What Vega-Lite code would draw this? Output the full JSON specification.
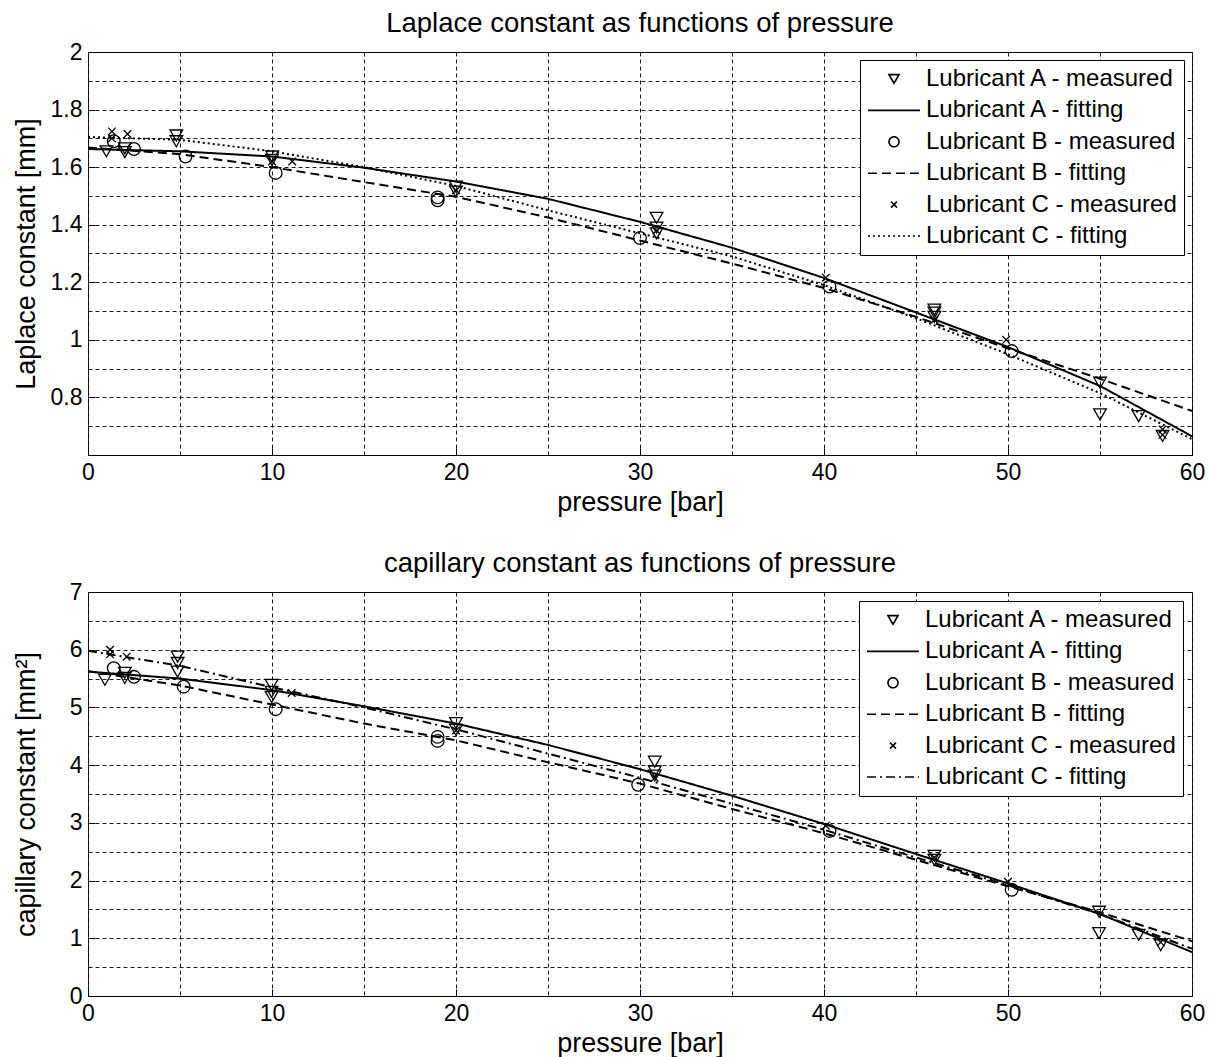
{
  "$schema": "https://vega.github.io/schema/vega-lite/v6.json",
  "background": "white",
  "padding": {"left": 11, "top": 9, "right": 5, "bottom": 0},
  "spacing": 33,
  "config": {
    "font": "Liberation Sans",
    "view": {"stroke": "black", "strokeWidth": 1},
    "axis": {"labelColor": "black", "titleColor": "black", "tickColor": "black", "titleFontWeight": "normal", "labelFont": "Liberation Sans", "titleFont": "Liberation Sans", "labelFlush": false, "labelOverlap": false},
    "title": {"font": "Liberation Sans", "fontWeight": "normal", "color": "black"}
  },
  "datasets": {
    "lap_meas": [
      {"series": "Lubricant A - measured", "pressure": 1.0, "value": 1.655},
      {"series": "Lubricant A - measured", "pressure": 2.0, "value": 1.665},
      {"series": "Lubricant A - measured", "pressure": 2.0, "value": 1.652},
      {"series": "Lubricant A - measured", "pressure": 4.8, "value": 1.71},
      {"series": "Lubricant A - measured", "pressure": 4.8, "value": 1.69},
      {"series": "Lubricant A - measured", "pressure": 10.0, "value": 1.637},
      {"series": "Lubricant A - measured", "pressure": 10.0, "value": 1.625},
      {"series": "Lubricant A - measured", "pressure": 20.0, "value": 1.532},
      {"series": "Lubricant A - measured", "pressure": 20.0, "value": 1.515},
      {"series": "Lubricant A - measured", "pressure": 30.9, "value": 1.424},
      {"series": "Lubricant A - measured", "pressure": 30.9, "value": 1.39},
      {"series": "Lubricant A - measured", "pressure": 30.9, "value": 1.37},
      {"series": "Lubricant A - measured", "pressure": 46.0, "value": 1.105},
      {"series": "Lubricant A - measured", "pressure": 46.0, "value": 1.095},
      {"series": "Lubricant A - measured", "pressure": 46.0, "value": 1.08},
      {"series": "Lubricant A - measured", "pressure": 55.0, "value": 0.851},
      {"series": "Lubricant A - measured", "pressure": 55.0, "value": 0.741},
      {"series": "Lubricant A - measured", "pressure": 57.1, "value": 0.735},
      {"series": "Lubricant A - measured", "pressure": 58.4, "value": 0.666},
      {"series": "Lubricant B - measured", "pressure": 1.4, "value": 1.69},
      {"series": "Lubricant B - measured", "pressure": 2.5, "value": 1.663},
      {"series": "Lubricant B - measured", "pressure": 5.3, "value": 1.637},
      {"series": "Lubricant B - measured", "pressure": 10.2, "value": 1.58},
      {"series": "Lubricant B - measured", "pressure": 19.0, "value": 1.485},
      {"series": "Lubricant B - measured", "pressure": 19.0, "value": 1.495},
      {"series": "Lubricant B - measured", "pressure": 30.0, "value": 1.354},
      {"series": "Lubricant B - measured", "pressure": 40.3, "value": 1.185},
      {"series": "Lubricant B - measured", "pressure": 50.2, "value": 0.961},
      {"series": "Lubricant C - measured", "pressure": 1.3, "value": 1.724},
      {"series": "Lubricant C - measured", "pressure": 1.3, "value": 1.70},
      {"series": "Lubricant C - measured", "pressure": 2.15, "value": 1.715},
      {"series": "Lubricant C - measured", "pressure": 10.0, "value": 1.62},
      {"series": "Lubricant C - measured", "pressure": 11.1, "value": 1.62},
      {"series": "Lubricant C - measured", "pressure": 20.0, "value": 1.52},
      {"series": "Lubricant C - measured", "pressure": 30.9, "value": 1.38},
      {"series": "Lubricant C - measured", "pressure": 40.1, "value": 1.216},
      {"series": "Lubricant C - measured", "pressure": 46.0, "value": 1.07},
      {"series": "Lubricant C - measured", "pressure": 49.9, "value": 1.0},
      {"series": "Lubricant C - measured", "pressure": 58.4, "value": 0.689},
      {"series": "Lubricant C - measured", "pressure": 58.4, "value": 0.67}
    ],
    "lap_fit": [
      {"series": "Lubricant A - fitting", "pressure": 0, "value": 1.663},
      {"series": "Lubricant A - fitting", "pressure": 5, "value": 1.655},
      {"series": "Lubricant A - fitting", "pressure": 10, "value": 1.637},
      {"series": "Lubricant A - fitting", "pressure": 15, "value": 1.598},
      {"series": "Lubricant A - fitting", "pressure": 20, "value": 1.55},
      {"series": "Lubricant A - fitting", "pressure": 25, "value": 1.49},
      {"series": "Lubricant A - fitting", "pressure": 30, "value": 1.41},
      {"series": "Lubricant A - fitting", "pressure": 35, "value": 1.32},
      {"series": "Lubricant A - fitting", "pressure": 40, "value": 1.215},
      {"series": "Lubricant A - fitting", "pressure": 45, "value": 1.095},
      {"series": "Lubricant A - fitting", "pressure": 50, "value": 0.975},
      {"series": "Lubricant A - fitting", "pressure": 55, "value": 0.84},
      {"series": "Lubricant A - fitting", "pressure": 60, "value": 0.665},
      {"series": "Lubricant B - fitting", "pressure": 0, "value": 1.668},
      {"series": "Lubricant B - fitting", "pressure": 5, "value": 1.645},
      {"series": "Lubricant B - fitting", "pressure": 10, "value": 1.600},
      {"series": "Lubricant B - fitting", "pressure": 15, "value": 1.548},
      {"series": "Lubricant B - fitting", "pressure": 20, "value": 1.497},
      {"series": "Lubricant B - fitting", "pressure": 25, "value": 1.425},
      {"series": "Lubricant B - fitting", "pressure": 30, "value": 1.345},
      {"series": "Lubricant B - fitting", "pressure": 35, "value": 1.265},
      {"series": "Lubricant B - fitting", "pressure": 40, "value": 1.18},
      {"series": "Lubricant B - fitting", "pressure": 45, "value": 1.08},
      {"series": "Lubricant B - fitting", "pressure": 50, "value": 0.97},
      {"series": "Lubricant B - fitting", "pressure": 55, "value": 0.865},
      {"series": "Lubricant B - fitting", "pressure": 60, "value": 0.753},
      {"series": "Lubricant C - fitting", "pressure": 0, "value": 1.705},
      {"series": "Lubricant C - fitting", "pressure": 5, "value": 1.695},
      {"series": "Lubricant C - fitting", "pressure": 10, "value": 1.655},
      {"series": "Lubricant C - fitting", "pressure": 15, "value": 1.60},
      {"series": "Lubricant C - fitting", "pressure": 20, "value": 1.535},
      {"series": "Lubricant C - fitting", "pressure": 25, "value": 1.45},
      {"series": "Lubricant C - fitting", "pressure": 30, "value": 1.37},
      {"series": "Lubricant C - fitting", "pressure": 35, "value": 1.29},
      {"series": "Lubricant C - fitting", "pressure": 40, "value": 1.19},
      {"series": "Lubricant C - fitting", "pressure": 45, "value": 1.075},
      {"series": "Lubricant C - fitting", "pressure": 50, "value": 0.95},
      {"series": "Lubricant C - fitting", "pressure": 55, "value": 0.815},
      {"series": "Lubricant C - fitting", "pressure": 60, "value": 0.655}
    ],
    "cap_meas": [
      {"series": "Lubricant A - measured", "pressure": 0.92, "value": 5.48},
      {"series": "Lubricant A - measured", "pressure": 2.0, "value": 5.51},
      {"series": "Lubricant A - measured", "pressure": 2.0, "value": 5.6},
      {"series": "Lubricant A - measured", "pressure": 4.87, "value": 5.88},
      {"series": "Lubricant A - measured", "pressure": 4.87, "value": 5.77},
      {"series": "Lubricant A - measured", "pressure": 4.87, "value": 5.62},
      {"series": "Lubricant A - measured", "pressure": 9.98, "value": 5.39},
      {"series": "Lubricant A - measured", "pressure": 9.98, "value": 5.27},
      {"series": "Lubricant A - measured", "pressure": 9.98, "value": 5.18},
      {"series": "Lubricant A - measured", "pressure": 20.0, "value": 4.73},
      {"series": "Lubricant A - measured", "pressure": 20.0, "value": 4.61},
      {"series": "Lubricant A - measured", "pressure": 30.8, "value": 4.06},
      {"series": "Lubricant A - measured", "pressure": 30.8, "value": 3.89},
      {"series": "Lubricant A - measured", "pressure": 30.8, "value": 3.82},
      {"series": "Lubricant A - measured", "pressure": 46.0, "value": 2.43},
      {"series": "Lubricant A - measured", "pressure": 46.0, "value": 2.36},
      {"series": "Lubricant A - measured", "pressure": 54.95, "value": 1.46},
      {"series": "Lubricant A - measured", "pressure": 54.95, "value": 1.09},
      {"series": "Lubricant A - measured", "pressure": 57.1, "value": 1.06},
      {"series": "Lubricant A - measured", "pressure": 58.3, "value": 0.88},
      {"series": "Lubricant B - measured", "pressure": 1.4, "value": 5.68},
      {"series": "Lubricant B - measured", "pressure": 2.5, "value": 5.53},
      {"series": "Lubricant B - measured", "pressure": 5.2, "value": 5.36},
      {"series": "Lubricant B - measured", "pressure": 10.2, "value": 4.97},
      {"series": "Lubricant B - measured", "pressure": 19.0, "value": 4.42},
      {"series": "Lubricant B - measured", "pressure": 19.0, "value": 4.49},
      {"series": "Lubricant B - measured", "pressure": 29.9, "value": 3.66},
      {"series": "Lubricant B - measured", "pressure": 40.3, "value": 2.86},
      {"series": "Lubricant B - measured", "pressure": 50.2, "value": 1.84},
      {"series": "Lubricant C - measured", "pressure": 1.2, "value": 6.0},
      {"series": "Lubricant C - measured", "pressure": 1.2, "value": 5.92},
      {"series": "Lubricant C - measured", "pressure": 2.1, "value": 5.88},
      {"series": "Lubricant C - measured", "pressure": 11.07, "value": 5.25},
      {"series": "Lubricant C - measured", "pressure": 20.0, "value": 4.6},
      {"series": "Lubricant C - measured", "pressure": 30.8, "value": 3.78},
      {"series": "Lubricant C - measured", "pressure": 40.1, "value": 2.95},
      {"series": "Lubricant C - measured", "pressure": 46.0, "value": 2.4},
      {"series": "Lubricant C - measured", "pressure": 50.0, "value": 1.98},
      {"series": "Lubricant C - measured", "pressure": 58.3, "value": 0.93}
    ],
    "cap_fit": [
      {"series": "Lubricant A - fitting", "pressure": 0, "value": 5.62},
      {"series": "Lubricant A - fitting", "pressure": 5, "value": 5.5},
      {"series": "Lubricant A - fitting", "pressure": 10, "value": 5.3},
      {"series": "Lubricant A - fitting", "pressure": 15, "value": 5.02},
      {"series": "Lubricant A - fitting", "pressure": 20, "value": 4.72},
      {"series": "Lubricant A - fitting", "pressure": 25, "value": 4.35},
      {"series": "Lubricant A - fitting", "pressure": 30, "value": 3.93},
      {"series": "Lubricant A - fitting", "pressure": 35, "value": 3.47},
      {"series": "Lubricant A - fitting", "pressure": 40, "value": 2.98},
      {"series": "Lubricant A - fitting", "pressure": 45, "value": 2.46},
      {"series": "Lubricant A - fitting", "pressure": 50, "value": 1.95},
      {"series": "Lubricant A - fitting", "pressure": 55, "value": 1.42},
      {"series": "Lubricant A - fitting", "pressure": 60, "value": 0.76},
      {"series": "Lubricant B - fitting", "pressure": 0, "value": 5.63},
      {"series": "Lubricant B - fitting", "pressure": 5, "value": 5.38},
      {"series": "Lubricant B - fitting", "pressure": 10, "value": 5.05},
      {"series": "Lubricant B - fitting", "pressure": 15, "value": 4.72},
      {"series": "Lubricant B - fitting", "pressure": 20, "value": 4.43},
      {"series": "Lubricant B - fitting", "pressure": 25, "value": 4.05},
      {"series": "Lubricant B - fitting", "pressure": 30, "value": 3.68},
      {"series": "Lubricant B - fitting", "pressure": 35, "value": 3.24},
      {"series": "Lubricant B - fitting", "pressure": 40, "value": 2.82},
      {"series": "Lubricant B - fitting", "pressure": 45, "value": 2.36},
      {"series": "Lubricant B - fitting", "pressure": 50, "value": 1.9},
      {"series": "Lubricant B - fitting", "pressure": 55, "value": 1.45},
      {"series": "Lubricant B - fitting", "pressure": 60, "value": 0.95},
      {"series": "Lubricant C - fitting", "pressure": 0, "value": 5.98},
      {"series": "Lubricant C - fitting", "pressure": 5, "value": 5.72},
      {"series": "Lubricant C - fitting", "pressure": 10, "value": 5.35},
      {"series": "Lubricant C - fitting", "pressure": 15, "value": 5.0},
      {"series": "Lubricant C - fitting", "pressure": 20, "value": 4.62},
      {"series": "Lubricant C - fitting", "pressure": 25, "value": 4.2},
      {"series": "Lubricant C - fitting", "pressure": 30, "value": 3.78},
      {"series": "Lubricant C - fitting", "pressure": 35, "value": 3.33},
      {"series": "Lubricant C - fitting", "pressure": 40, "value": 2.88},
      {"series": "Lubricant C - fitting", "pressure": 45, "value": 2.4},
      {"series": "Lubricant C - fitting", "pressure": 50, "value": 1.92},
      {"series": "Lubricant C - fitting", "pressure": 55, "value": 1.42},
      {"series": "Lubricant C - fitting", "pressure": 60, "value": 0.82}
    ]
  },
  "resolve": {"scale": {"shape": "independent", "strokeDash": "independent"}, "legend": {"shape": "independent", "strokeDash": "independent"}},
  "vconcat": [
    {
      "width": 1104,
      "height": 403,
      "title": {"text": "Laplace constant as functions of pressure", "fontSize": 27.5, "offset": 4, "anchor": "middle"},
      "resolve": {"axis": {"x": "independent", "y": "independent"}},
      "layer": [
        {
          "data": {"name": "lap_fit"},
          "mark": {"type": "line", "color": "black", "strokeWidth": 2},
          "encoding": {
            "x": {"field": "pressure", "type": "quantitative", "scale": {"domain": [0, 60], "nice": false, "zero": false},
              "axis": {"orient": "bottom", "values": [0,5,10,15,20,25,30,35,40,45,50,55,60], "grid": true, "labels": false, "ticks": false, "domain": false, "title": null, "gridDash": [4,3], "gridColor": "#1a1a1a", "gridWidth": 1, "gridOpacity": 1}},
            "y": {"field": "value", "type": "quantitative", "scale": {"domain": [0.6, 2], "nice": false, "zero": false},
              "axis": {"orient": "left", "values": [0.7,0.8,0.9,1,1.1,1.2,1.3,1.4,1.5,1.6,1.7,1.8,1.9], "grid": true, "labels": false, "ticks": false, "domain": false, "title": null, "gridDash": [4,3], "gridColor": "#1a1a1a", "gridWidth": 1, "gridOpacity": 1}},
            "strokeDash": {"field": "series", "type": "nominal",
              "scale": {"domain": ["Lubricant A - measured","Lubricant A - fitting","Lubricant B - measured","Lubricant B - fitting","Lubricant C - measured","Lubricant C - fitting"],
                        "range": [[1,0],[1,0],[1,0],[9,5],[1,0],[2,3]]},
              "legend": {"title": null, "orient": "top-right", "offset": 8, "padding": 7, "strokeColor": "black", "fillColor": "white", "cornerRadius": 0, "labelFontSize": 24, "labelColor": "black", "symbolSize": 100, "symbolStrokeWidth": 1.6, "symbolStrokeColor": "black", "symbolFillColor": "transparent", "symbolOffset": 15, "labelOffset": 20, "rowPadding": 7.4, "labelLimit": 400}}
          }
        },
        {
          "data": {"name": "lap_meas"},
          "mark": {"type": "point", "filled": false, "size": 160, "strokeWidth": 1.3, "color": "black", "opacity": 1},
          "encoding": {
            "x": {"field": "pressure", "type": "quantitative", "scale": {"domain": [0, 60], "nice": false, "zero": false},
              "axis": {"orient": "bottom", "values": [0,10,20,30,40,50,60], "format": "d", "grid": false, "domain": false, "ticks": true, "tickSize": -7, "tickColor": "black", "labelPadding": 13, "labelFontSize": 23, "title": "pressure [bar]", "titleFontSize": 27, "titlePadding": 5}},
            "y": {"field": "value", "type": "quantitative", "scale": {"domain": [0.6, 2], "nice": false, "zero": false},
              "axis": {"orient": "left", "values": [0.8,1,1.2,1.4,1.6,1.8,2], "format": "~g", "grid": false, "domain": false, "ticks": true, "tickSize": -7, "tickColor": "black", "labelPadding": 13, "labelFontSize": 23, "title": "Laplace constant [mm]", "titleFontSize": 27, "titlePadding": 10}},
            "shape": {"field": "series", "type": "nominal",
              "scale": {"domain": ["Lubricant A - measured","Lubricant A - fitting","Lubricant B - measured","Lubricant B - fitting","Lubricant C - measured","Lubricant C - fitting"],
                        "range": ["triangle-down","M-5.2,0L5.2,0","circle","M-5.2,0L5.2,0","M-0.6,-0.6L0.6,0.6M-0.6,0.6L0.6,-0.6","M-5.2,0L5.2,0"]},
              "legend": {"title": null, "orient": "top-right", "offset": 8, "padding": 7, "strokeColor": "black", "fillColor": "white", "cornerRadius": 0, "labelFontSize": 24, "labelColor": "black", "symbolSize": 100, "symbolStrokeWidth": 1.6, "symbolStrokeColor": "black", "symbolFillColor": "transparent", "symbolOffset": 15, "labelOffset": 20, "rowPadding": 7.4, "labelLimit": 400}}
          }
        }
      ]
    },
    {
      "width": 1104,
      "height": 404,
      "title": {"text": "capillary constant as functions of pressure", "fontSize": 27.5, "offset": 4, "anchor": "middle"},
      "resolve": {"axis": {"x": "independent", "y": "independent"}},
      "layer": [
        {
          "data": {"name": "cap_fit"},
          "mark": {"type": "line", "color": "black", "strokeWidth": 2},
          "encoding": {
            "x": {"field": "pressure", "type": "quantitative", "scale": {"domain": [0, 60], "nice": false, "zero": false},
              "axis": {"orient": "bottom", "values": [0,5,10,15,20,25,30,35,40,45,50,55,60], "grid": true, "labels": false, "ticks": false, "domain": false, "title": null, "gridDash": [4,3], "gridColor": "#1a1a1a", "gridWidth": 1, "gridOpacity": 1}},
            "y": {"field": "value", "type": "quantitative", "scale": {"domain": [0, 7], "nice": false, "zero": false},
              "axis": {"orient": "left", "values": [0.5,1,1.5,2,2.5,3,3.5,4,4.5,5,5.5,6,6.5], "grid": true, "labels": false, "ticks": false, "domain": false, "title": null, "gridDash": [4,3], "gridColor": "#1a1a1a", "gridWidth": 1, "gridOpacity": 1}},
            "strokeDash": {"field": "series", "type": "nominal",
              "scale": {"domain": ["Lubricant A - measured","Lubricant A - fitting","Lubricant B - measured","Lubricant B - fitting","Lubricant C - measured","Lubricant C - fitting"],
                        "range": [[1,0],[1,0],[1,0],[9,5],[1,0],[9,4,2,4]]},
              "legend": {"title": null, "orient": "top-right", "offset": 9, "padding": 7, "strokeColor": "black", "fillColor": "white", "cornerRadius": 0, "labelFontSize": 24, "labelColor": "black", "symbolSize": 100, "symbolStrokeWidth": 1.6, "symbolStrokeColor": "black", "symbolFillColor": "transparent", "symbolOffset": 15, "labelOffset": 20, "rowPadding": 7.4, "labelLimit": 400}}
          }
        },
        {
          "data": {"name": "cap_meas"},
          "mark": {"type": "point", "filled": false, "size": 160, "strokeWidth": 1.3, "color": "black", "opacity": 1},
          "encoding": {
            "x": {"field": "pressure", "type": "quantitative", "scale": {"domain": [0, 60], "nice": false, "zero": false},
              "axis": {"orient": "bottom", "values": [0,10,20,30,40,50,60], "format": "d", "grid": false, "domain": false, "ticks": true, "tickSize": -7, "tickColor": "black", "labelPadding": 13, "labelFontSize": 23, "title": "pressure [bar]", "titleFontSize": 27, "titlePadding": 5}},
            "y": {"field": "value", "type": "quantitative", "scale": {"domain": [0, 7], "nice": false, "zero": false},
              "axis": {"orient": "left", "values": [0,1,2,3,4,5,6,7], "format": "d", "grid": false, "domain": false, "ticks": true, "tickSize": -7, "tickColor": "black", "labelPadding": 13, "labelFontSize": 23, "title": "capillary constant [mm²]", "titleFontSize": 27, "titlePadding": 29}},
            "shape": {"field": "series", "type": "nominal",
              "scale": {"domain": ["Lubricant A - measured","Lubricant A - fitting","Lubricant B - measured","Lubricant B - fitting","Lubricant C - measured","Lubricant C - fitting"],
                        "range": ["triangle-down","M-5.2,0L5.2,0","circle","M-5.2,0L5.2,0","M-0.6,-0.6L0.6,0.6M-0.6,0.6L0.6,-0.6","M-5.2,0L5.2,0"]},
              "legend": {"title": null, "orient": "top-right", "offset": 9, "padding": 7, "strokeColor": "black", "fillColor": "white", "cornerRadius": 0, "labelFontSize": 24, "labelColor": "black", "symbolSize": 100, "symbolStrokeWidth": 1.6, "symbolStrokeColor": "black", "symbolFillColor": "transparent", "symbolOffset": 15, "labelOffset": 20, "rowPadding": 7.4, "labelLimit": 400}}
          }
        }
      ]
    }
  ]
}
